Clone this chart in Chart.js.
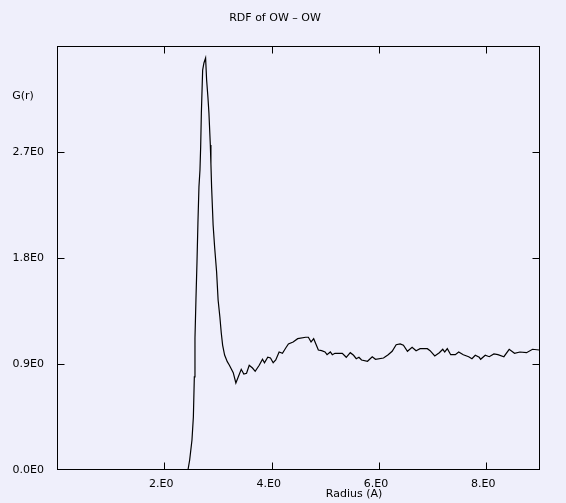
<!DOCTYPE html>
<html>
<head>
<meta charset="utf-8">
<title>RDF of OW - OW</title>
<script src="https://cdn.jsdelivr.net/npm/chart.js@4.4.1/dist/chart.umd.min.js"></script>
<style>
  html, body { margin: 0; padding: 0; background: #efeffb; }
  canvas { display: block; }
</style>
</head>
<body>
<canvas id="rdfChart" width="566" height="503"></canvas>
<script>
// radius (A) and g(r)
var radius = [0, 2.440, 2.472, 2.515, 2.541, 2.559, 2.571, 2.589, 2.608, 2.626, 2.645,
	2.664, 2.677, 2.690, 2.714, 2.738, 2.769, 2.788, 2.812, 2.831, 2.857,
	2.868, 2.881, 2.909, 2.937, 2.974, 3.002, 3.035, 3.061, 3.086, 3.123,
	3.173, 3.210, 3.284, 3.333, 3.433, 3.481, 3.532, 3.582, 3.643, 3.693,
	3.768, 3.829, 3.866, 3.927, 3.978, 4.028, 4.076, 4.139, 4.201, 4.262,
	4.312, 4.400, 4.485, 4.634, 4.684, 4.734, 4.783, 4.870, 4.931, 4.994,
	5.032, 5.093, 5.130, 5.180, 5.316, 5.390, 5.465, 5.526, 5.576, 5.626,
	5.675, 5.786, 5.874, 5.935, 6.084, 6.171, 6.245, 6.320, 6.394, 6.455,
	6.530, 6.617, 6.691, 6.766, 6.901, 6.952, 7.039, 7.124, 7.188, 7.225,
	7.273, 7.336, 7.422, 7.485, 7.571, 7.671, 7.732, 7.794, 7.868, 7.894,
	7.980, 8.054, 8.141, 8.216, 8.327, 8.426, 8.526, 8.625, 8.749, 8.861,
	8.983, 9.0];
var gr = [0, 0, 0.085, 0.255, 0.450, 0.790, 1.121, 1.443, 1.758, 2.097, 2.403,
	2.547, 2.742, 3.031, 3.396, 3.456, 3.498, 3.311, 3.167, 3.031, 2.760,
	2.600, 2.400, 2.080, 1.893, 1.681, 1.443, 1.299, 1.163, 1.061, 0.976,
	0.920, 0.892, 0.826, 0.739, 0.855, 0.815, 0.821, 0.889, 0.866, 0.838,
	0.889, 0.940, 0.911, 0.957, 0.951, 0.911, 0.934, 1.002, 0.991, 1.036,
	1.070, 1.087, 1.115, 1.127, 1.127, 1.087, 1.115, 1.019, 1.013, 1.002,
	0.979, 1.002, 0.979, 0.991, 0.991, 0.957, 0.996, 0.974, 0.945, 0.957,
	0.934, 0.923, 0.962, 0.940, 0.951, 0.979, 1.008, 1.064, 1.070, 1.059,
	1.008, 1.042, 1.013, 1.030, 1.030, 1.013, 0.968, 0.996, 1.025, 1.002,
	1.030, 0.979, 0.979, 1.002, 0.979, 0.962, 0.945, 0.974, 0.957, 0.940,
	0.974, 0.962, 0.985, 0.979, 0.962, 1.025, 0.991, 1.002, 0.996, 1.025,
	1.019, 1.020];

// ticks and their labels
var xTicks = [2, 4, 6, 8];
var xTickLabels = ["2.E0", "4.E0", "6.E0", "8.E0"];
var yTicks = [0, 0.9, 1.8, 2.7];
var yTickLabels = ["0.0E0", "0.9E0", "1.8E0", "2.7E0"];

var points = radius.map(function (r, i) {
	return { x: r, y: gr[i] };
});

var labelFont = { family: "DejaVu Sans", size: 11 };

// frame, inward tick marks and free texts
var framePlugin = {
	id: "frame",
	beforeDraw: function (chart) {
		var c = chart.ctx;
		c.save();
		c.fillStyle = "#efeffb";
		c.fillRect(0, 0, chart.width, chart.height);
		c.restore();
	},
	afterDraw: function (chart) {
		var c = chart.ctx;
		var a = chart.chartArea;
		var xs = chart.scales.x;
		var ys = chart.scales.y;
		var L = Math.round(a.left) + 0.5, R = Math.round(a.right) - 0.5;
		var T = Math.round(a.top) + 0.5, B = Math.round(a.bottom) - 0.5;
		var len = 7;

		c.save();
		c.strokeStyle = "#000";
		c.lineWidth = 1;
		c.strokeRect(L, T, R - L, B - T);

		c.beginPath();
		xTicks.forEach(function (v) {
			var px = Math.round(xs.getPixelForValue(v)) + 0.5;
			c.moveTo(px, B); c.lineTo(px, B - len);
			c.moveTo(px, T); c.lineTo(px, T + len);
		});
		yTicks.forEach(function (v) {
			if (v === 0) return;
			var py = Math.round(ys.getPixelForValue(v)) + 0.5;
			c.moveTo(L, py); c.lineTo(L + len, py);
			c.moveTo(R, py); c.lineTo(R - len, py);
		});
		c.stroke();

		c.fillStyle = "#000";
		c.font = "11px 'DejaVu Sans'";
		c.textAlign = "center";
		c.textBaseline = "middle";
		c.fillText("RDF of OW \u2013 OW", 275, 18);
		c.fillText("G(r)", 23, 96);
		c.fillText("Radius (A)", 354, 494);
		c.restore();
	}
};

new Chart(document.getElementById("rdfChart"), {
	type: "line",
	data: {
		datasets: [{
			data: points,
			borderColor: "#000",
			borderWidth: 1.2,
			pointRadius: 0,
			tension: 0,
			fill: false
		}]
	},
	options: {
		responsive: false,
		animation: false,
		devicePixelRatio: 1,
		layout: { padding: { top: 46, right: 26, left: 0, bottom: 0 } },
		plugins: {
			legend: { display: false },
			title: { display: false },
			tooltip: { enabled: false }
		},
		scales: {
			x: {
				type: "linear",
				min: 0,
				max: 9,
				grid: { display: false, drawTicks: false },
				border: { display: false },
				afterBuildTicks: function (scale) {
					scale.ticks = xTicks.map(function (v) { return { value: v }; });
				},
				afterFit: function (scale) { scale.height = 33; },
				ticks: {
					autoSkip: false,
					maxRotation: 0,
					padding: 8,
					labelOffset: -3,
					color: "#000",
					font: labelFont,
					callback: function (value, index) { return xTickLabels[index]; }
				}
			},
			y: {
				type: "linear",
				min: 0,
				max: 3.6,
				grid: { display: false, drawTicks: false },
				border: { display: false },
				afterBuildTicks: function (scale) {
					scale.ticks = yTicks.map(function (v) { return { value: v }; });
				},
				afterFit: function (scale) { scale.width = 57; },
				ticks: {
					autoSkip: false,
					padding: 13,
					color: "#000",
					font: labelFont,
					callback: function (value, index) { return yTickLabels[index]; }
				}
			}
		}
	},
	plugins: [framePlugin]
});
</script>
</body>
</html>
